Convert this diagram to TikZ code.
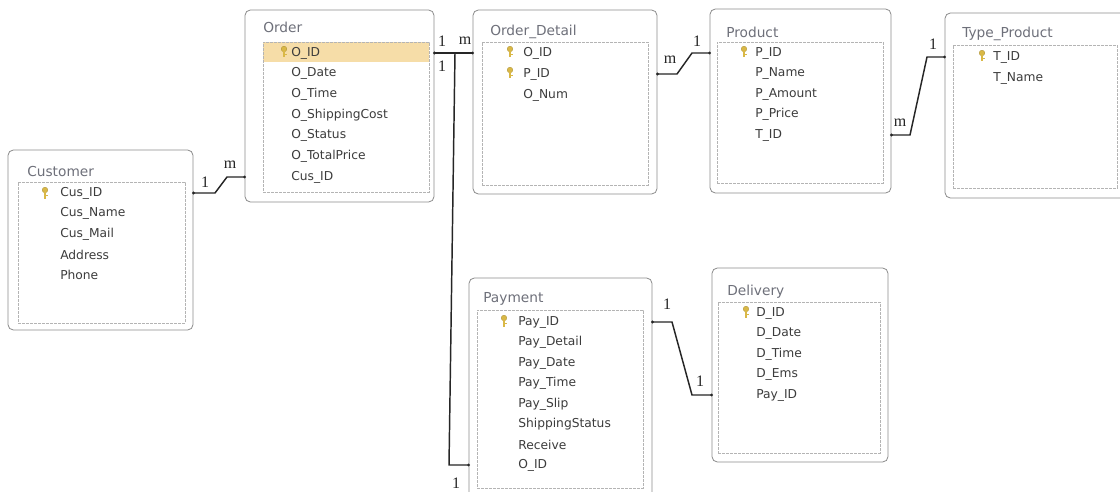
\documentclass[tikz,border=0pt]{standalone}
\usepackage{fontspec}
\newfontfamily\sansf{DejaVu Sans}
\newfontfamily\serff{Liberation Serif}
\usetikzlibrary{fit}
\definecolor{titlegray}{HTML}{6E707A}
\definecolor{fieldgray}{HTML}{3C3C3C}
\definecolor{outergray}{HTML}{8C8C8C}
\definecolor{innergray}{HTML}{B4B4B4}
\definecolor{hilite}{HTML}{F6DDA8}
\definecolor{keygold}{HTML}{D9B847}
\definecolor{keydark}{HTML}{A08420}
\tikzset{
  outerbox/.style={draw=outergray, line width=0.6pt, rounded corners=4pt, inner sep=0pt},
  innerbox/.style={draw=innergray, line width=0.5pt, dash pattern=on 2pt off 1pt, inner sep=0pt},
  ttl/.style={font=\sansf\fontsize{10.3}{12}\selectfont, text=titlegray, anchor=west, inner sep=0pt},
  fld/.style={font=\sansf\fontsize{9.2}{11}\selectfont, text=fieldgray, anchor=west, inner sep=0pt},
  rel/.style={draw=black!85, line width=1.1pt},
  card/.style={font=\serff\fontsize{12}{14}\selectfont, text=black!85, inner sep=0pt},
  dot/.style={circle, fill=black!85, inner sep=0pt, minimum size=2.4pt},
  keyicon/.pic={
    \fill[keygold, draw=keydark, line width=0.2pt] (0,-3) circle (2.1pt);
    \fill[keygold] (-1,-1) rectangle (1,5.5);
    \fill[keygold] (1,2) rectangle (2.6,3.4);
  }
}
\begin{document}
\begin{tikzpicture}[x=0.75pt,y=-0.75pt]
\clip (0,0) rectangle (1120,492);
\fill[white] (0,0) rectangle (1120,492);

% ---------- Customer ----------
\node[outerbox, fit={(8,150) (193,330)}] (cust) {};
\node[innerbox, fit={(18,182) (185,323)}] (custin) {};
\node[ttl] (custt) at (27,171) {Customer};
\pic at (45,193) {keyicon};
\node[fld] (cusid) at (60,193) {Cus\_ID};
\node[fld] (cusname) at (60,213.5) {Cus\_Name};
\node[fld] (cusmail) at (60,234) {Cus\_Mail};
\node[fld] (cusaddr) at (60,254.5) {Address};
\node[fld] (cusphone) at (60,275) {Phone};

% ---------- Order ----------
\node[outerbox, fit={(245,10) (434,202)}] (ord) {};
\fill[hilite] (263,42) rectangle (429,62);
\node[innerbox, fit={(263,42) (429,192)}] (ordin) {};
\node[ttl] (ordt) at (263,27) {Order};
\pic at (284,52) {keyicon};
\node[fld] (oid) at (291,53) {O\_ID};
\node[fld] (odate) at (291,73.6) {O\_Date};
\node[fld] (otime) at (291,94.2) {O\_Time};
\node[fld] (oship) at (291,114.8) {O\_ShippingCost};
\node[fld] (ostat) at (291,135.4) {O\_Status};
\node[fld] (ototal) at (291,156) {O\_TotalPrice};
\node[fld] (ocus) at (291,177) {Cus\_ID};

% ---------- Order_Detail ----------
\node[outerbox, fit={(473,10) (657,194)}] (od) {};
\node[innerbox, fit={(482,42) (648,185)}] (odin) {};
\node[ttl] (odt) at (490,32) {Order\_Detail};
\pic at (510,52) {keyicon};
\pic at (510,73) {keyicon};
\node[fld] (odoid) at (523,53) {O\_ID};
\node[fld] (odpid) at (523,74) {P\_ID};
\node[fld] (odnum) at (523,95) {O\_Num};

% ---------- Product ----------
\node[outerbox, fit={(710,9) (891,193)}] (prod) {};
\node[innerbox, fit={(717,42) (883,183)}] (prodin) {};
\node[ttl] (prodt) at (726,32) {Product};
\pic at (744,52) {keyicon};
\node[fld] (pid) at (755,53) {P\_ID};
\node[fld] (pname) at (755,73.5) {P\_Name};
\node[fld] (pamount) at (755,94) {P\_Amount};
\node[fld] (pprice) at (755,114.5) {P\_Price};
\node[fld] (ptid) at (755,135) {T\_ID};

% ---------- Type_Product ----------
\node[outerbox, fit={(945,13) (1126,198)}] (tp) {};
\node[innerbox, fit={(953,45) (1117,188)}] (tpin) {};
\node[ttl] (tpt) at (962,34) {Type\_Product};
\pic at (982,56) {keyicon};
\node[fld] (tid) at (993,57) {T\_ID};
\node[fld] (tname) at (993,78) {T\_Name};

% ---------- Payment ----------
\node[outerbox, fit={(469,278) (652,510)}] (pay) {};
\node[innerbox, fit={(477,310) (643,488)}] (payin) {};
\node[ttl] (payt) at (483,299) {Payment};
\pic at (504,321) {keyicon};
\node[fld] (payid) at (518,322) {Pay\_ID};
\node[fld] (paydet) at (518,342.5) {Pay\_Detail};
\node[fld] (paydate) at (518,363) {Pay\_Date};
\node[fld] (paytime) at (518,383.5) {Pay\_Time};
\node[fld] (payslip) at (518,404) {Pay\_Slip};
\node[fld] (payship) at (518,424.5) {ShippingStatus};
\node[fld] (payrec) at (518,445) {Receive};
\node[fld] (payoid) at (518,465) {O\_ID};

% ---------- Delivery ----------
\node[outerbox, fit={(712,268) (888,462)}] (del) {};
\node[innerbox, fit={(718,302) (880,453)}] (delin) {};
\node[ttl] (delt) at (727,292) {Delivery};
\pic at (746,312) {keyicon};
\node[fld] (did) at (756,313) {D\_ID};
\node[fld] (ddate) at (756,333.5) {D\_Date};
\node[fld] (dtime) at (756,354) {D\_Time};
\node[fld] (dems) at (756,374.5) {D\_Ems};
\node[fld] (dpay) at (756,395) {Pay\_ID};

% ---------- Relationships ----------
% Customer - Order
\draw[rel] (cust.east |- cusid) -- (215,193) -- (227,177) -- (ord.west |- ocus);
\node[dot] at (cust.east |- cusid) {};
\node[dot] at (ord.west |- ocus) {};
\node[card] (c1a) at (205,182) {1};
\node[card] (c1b) at (230,165) {m};

% Order - Order_Detail
\draw[rel] (ord.east |- oid) -- (od.west |- odoid);
\node[dot] at (ord.east |- oid) {};
\node[dot] at (od.west |- odoid) {};
\node[card] (c2a) at (442,41) {1};
\node[card] (c2b) at (465,41) {m};

% Order - Payment
\draw[rel] (ord.east |- oid) -- (455,53) -- (449,465) -- (pay.west |- payoid);
\node[dot] at (pay.west |- payoid) {};
\node[card] (c3a) at (442,66) {1};
\node[card] (c3b) at (456,483) {1};

% Order_Detail - Product
\draw[rel] (od.east |- odpid) -- (677,74) -- (692,53) -- (prod.west |- pid);
\node[dot] at (od.east |- odpid) {};
\node[dot] at (prod.west |- pid) {};
\node[card] (c4a) at (670,60) {m};
\node[card] (c4b) at (697,41) {1};

% Product - Type_Product
\draw[rel] (prod.east |- ptid) -- (910,135) -- (927,57) -- (tp.west |- tid);
\node[dot] at (prod.east |- ptid) {};
\node[dot] at (tp.west |- tid) {};
\node[card] (c5a) at (900,123) {m};
\node[card] (c5b) at (933,44) {1};

% Payment - Delivery
\draw[rel] (pay.east |- payid) -- (672,322) -- (692,395) -- (del.west |- dpay);
\node[dot] at (pay.east |- payid) {};
\node[dot] at (del.west |- dpay) {};
\node[card] (c6a) at (667,304) {1};
\node[card] (c6b) at (700,381) {1};
\end{tikzpicture}
\end{document}
